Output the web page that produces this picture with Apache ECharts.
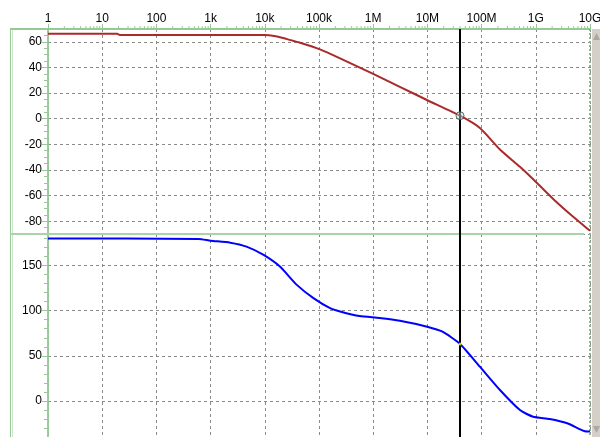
<!DOCTYPE html>
<html>
<head>
<meta charset="utf-8">
<script src="https://cdn.jsdelivr.net/npm/echarts@6/dist/echarts.min.js"></script>
<style>
  html, body { margin: 0; padding: 0; background: #fff; }
  #chart { width: 600px; height: 437px; }
</style>
</head>
<body>
<div id="chart"></div>
<script>
// decade labels along the frequency axis
const decadeLabels = ['1', '10', '100', '1k', '10k', '100k', '1M', '10M', '100M', '1G', '10G'];

// magnitude trace (dB)
const magFreq = [1, 19, 21, 1e4, 1.5e4, 2e4, 3e4, 4.5e4, 1.04e5, 2.45e5, 1e6, 3.1e6, 1e7, 4e7, 9.3e7, 2.18e8, 5.1e8, 1.04e9, 2.4e9, 4.9e9, 9.2e9, 1e10];
const magDb = [66.2, 66.2, 65.4, 65.3, 64.6, 63.4, 61.3, 59.3, 54.1, 47.1, 35.0, 24.9, 14.4, 2.3, -7.3, -24.0, -37.6, -50.0, -65.0, -76.6, -86.3, -87.5];

// phase trace (deg)
const phaseFreq = [1, 600, 1e3, 2.3e3, 4.6e3, 9.5e3, 1.9e4, 3.9e4, 7.9e4, 1.6e5, 2.45e5, 5.6e5, 1.3e6, 3.1e6, 9.9e6, 1.9e7, 4e7, 9.3e7, 2.18e8, 5.1e8, 8.9e8, 1.8e9, 3.8e9, 7.8e9, 1e10];
const phaseDeg = [180, 179.5, 177.6, 175.4, 171, 161.8, 148.9, 128.6, 113.9, 102.8, 99.1, 94, 91.9, 88.9, 82.3, 76.7, 63.1, 37.9, 12.1, -10.1, -17.5, -20, -24.8, -33.4, -34];

// cursor
const cursorFreq = 4e7;
const cursorMag = 2.3;
const cursorPhase = 63.1;

// axis ranges
const magMin = -90, magMax = 70;
const phaseMin = -40, phaseMax = 185;

// frequency axis runs in decades (log10 of Hz)
const lg = f => Math.log10(f);

// minor ticks of the frequency axis: 2..9 in every decade
const minorFreqs = [];
for (let d = 0; d < 10; d++) {
  for (let k = 2; k <= 9; k++) minorFreqs.push(k * Math.pow(10, d));
}

const green = '#96c996';
const gridDash = { color: '#8a8a8a', type: [3, 3], width: 1 };
const font = 'Liberation Sans';

const chart = echarts.init(document.getElementById('chart'));

const xBase = {
  type: 'value', min: 0, max: 10, interval: 1,
  splitLine: { show: true, lineStyle: gridDash }
};

function minorY(gridIndex, min, max, step) {
  return {
    type: 'value', gridIndex: gridIndex, position: 'left', offset: 0, min: min, max: max, interval: step,
    axisLine: { show: true, onZero: false, lineStyle: { color: green, width: 1.5 } },
    axisTick: { show: true, length: 4, lineStyle: { color: green } },
    axisLabel: { show: false }, splitLine: { show: false }
  };
}

function majorY(gridIndex, min, max, step, n) {
  return {
    type: 'value', gridIndex: gridIndex, position: 'left', min: min, max: max,
    minInterval: step, maxInterval: step, splitNumber: n,
    axisLine: { show: true, onZero: false, lineStyle: { color: green, width: 1.5 } },
    axisTick: { show: true, length: 6, lineStyle: { color: green } },
    axisLabel: { margin: 6, color: '#000', fontSize: 12, fontFamily: font, showMinLabel: false, showMaxLabel: false },
    splitLine: { show: true, lineStyle: gridDash }
  };
}

chart.setOption({
  animation: false,
  textStyle: { fontFamily: font },
  grid: [
    { left: 48, top: 29, width: 542, height: 205, outerBoundsMode: 'none', containLabel: false },
    { left: 48, top: 234, width: 542, height: 203, outerBoundsMode: 'none', containLabel: false }
  ],
  xAxis: [
    Object.assign({}, xBase, {
      gridIndex: 0, position: 'top',
      axisLine: { show: true, onZero: false, lineStyle: { color: green, width: 2 } },
      axisTick: { show: true, length: 5, lineStyle: { color: green } },
      axisLabel: {
        margin: 4, color: '#000', fontSize: 12, fontFamily: font,
        hideOverlap: false, showMinLabel: true, showMaxLabel: true,
        formatter: v => decadeLabels[Math.round(v)]
      }
    }),
    Object.assign({}, xBase, {
      gridIndex: 1,
      axisLine: { show: false, onZero: false },
      axisTick: { show: false },
      axisLabel: { show: false }
    })
  ],
  yAxis: [
    majorY(0, magMin, magMax, 20, 8),
    majorY(1, phaseMin, phaseMax, 50, 5),
    minorY(0, magMin, magMax, 5),
    minorY(1, phaseMin, phaseMax, 10)
  ],
  graphic: [
    { type: 'line', z: 1, shape: { x1: 10.5, y1: 29, x2: 10.5, y2: 437 }, style: { stroke: green, lineWidth: 1 } },
    { type: 'line', z: 1, shape: { x1: 12.5, y1: 29, x2: 12.5, y2: 437 }, style: { stroke: '#cde5cd', lineWidth: 1 } },
    { type: 'line', z: 1, shape: { x1: 10, y1: 29, x2: 48, y2: 29 }, style: { stroke: green, lineWidth: 2 } },
    { type: 'line', z: 1, shape: { x1: 10, y1: 234, x2: 584, y2: 234 }, style: { stroke: '#a8d4a8', lineWidth: 2 } },
    { type: 'line', z: 1, shape: { x1: 590, y1: 29, x2: 590, y2: 437 }, style: { stroke: '#8db58d', lineWidth: 2, lineDash: [2, 2] } },
    { type: 'rect', z: 1, shape: { x: 592, y: 29, width: 8, height: 408 }, style: { fill: '#d4d0c8' } },
    { type: 'polygon', z: 1, shape: { points: [[593, 40], [596.5, 33], [600, 40]] }, style: { fill: '#a8a8a8' } },
    { type: 'polygon', z: 1, shape: { points: [[593, 426], [596.5, 433], [600, 426]] }, style: { fill: '#a8a8a8' } }
  ],
  series: [
    {
      name: 'Magnitude', type: 'line', xAxisIndex: 0, yAxisIndex: 0,
      data: magFreq.map((f, i) => [lg(f), magDb[i]]),
      showSymbol: false, smooth: 0.2,
      lineStyle: { color: '#aa2a2a', width: 2 },
      markLine: {
        silent: true, symbol: ['none', 'none'], label: { show: false },
        lineStyle: { color: '#000', width: 2, type: 'solid' },
        data: [{ xAxis: lg(cursorFreq) }]
      }
    },
    {
      name: 'Phase', type: 'line', xAxisIndex: 1, yAxisIndex: 1,
      data: phaseFreq.map((f, i) => [lg(f), phaseDeg[i]]),
      showSymbol: false, smooth: 0.2,
      lineStyle: { color: '#0000ff', width: 2 },
      markLine: {
        silent: true, symbol: ['none', 'none'], label: { show: false },
        lineStyle: { color: '#000', width: 2, type: 'solid' },
        data: [{ xAxis: lg(cursorFreq) }]
      }
    },
    {
      type: 'scatter', xAxisIndex: 0, yAxisIndex: 0, silent: true, z: 5,
      data: [[lg(cursorFreq), cursorMag]],
      symbol: 'circle', symbolSize: 8,
      itemStyle: { color: 'rgba(190,225,225,0.6)', borderColor: '#444', borderWidth: 1 }
    },
    {
      type: 'scatter', xAxisIndex: 1, yAxisIndex: 1, silent: true, z: 5,
      data: [[lg(cursorFreq), cursorPhase]],
      symbol: 'circle', symbolSize: 3,
      itemStyle: { color: '#ffff00' }
    },
    {
      type: 'custom', xAxisIndex: 0, yAxisIndex: 0, silent: true, clip: false,
      data: minorFreqs.map(f => [lg(f), magMax]),
      renderItem: (params, api) => {
        const p = api.coord([api.value(0), api.value(1)]);
        return {
          type: 'line',
          shape: { x1: p[0], y1: p[1], x2: p[0], y2: p[1] - 3 },
          style: { stroke: green, lineWidth: 1 }
        };
      }
    }
  ]
});
</script>
</body>
</html>
